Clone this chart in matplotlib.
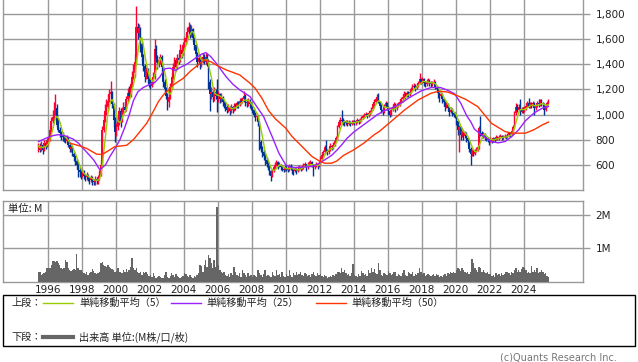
import numpy as np
import pandas as pd
import matplotlib
matplotlib.use("Agg")
import matplotlib.pyplot as plt
from matplotlib.patches import Rectangle
from matplotlib.lines import Line2D

# ---------------- data (monthly, Jun 1995 .. Jun 2025) ----------------
start_year, start_month = 1995, 6

opens = [
 720,750,720,760,720,770,750,
 790,800,880,950,980,1020,1050,920,880,850,830,820,
 800,790,810,760,730,740,690,660,630,600,560,540,
 520,540,510,500,520,490,480,500,470,460,490,470,
 500,520,600,880,960,1030,1060,1110,1160,1180,1080,960,
 860,900,950,1030,950,1020,1060,1040,1120,1170,1150,1240,
 1300,1330,1420,1700,1650,1690,1560,1460,1390,1300,1360,1280,
 1240,1230,1260,1300,1520,1450,1400,1430,1460,1380,1260,1200,
 1150,1100,1140,1220,1300,1380,1430,1380,1450,1430,1510,1480,
 1550,1580,1610,1660,1700,1640,1680,1610,1550,1480,1420,1450,
 1400,1430,1460,1420,1460,1430,1260,1160,1180,1140,1180,1150,
 1130,1160,1120,1140,1100,1080,1060,1040,1060,1030,1060,1040,
 1070,1060,1090,1080,1110,1100,1120,1150,1100,1090,1110,1080,
 1060,1040,1000,980,990,940,780,730,700,670,640,610,
 590,550,510,550,580,600,620,590,600,580,570,560,
 580,570,560,590,580,560,550,565,550,570,580,570,
 585,595,605,580,600,610,620,600,580,595,605,590,
 615,650,680,700,740,720,700,720,750,740,760,790,
 810,900,940,960,950,940,935,945,925,940,925,940,
 945,930,945,955,940,960,975,985,995,1005,990,1010,
 1025,1045,1080,1100,1120,1140,1100,1070,1040,1020,1070,1090,
 1060,1030,1000,1040,1060,1080,1050,1070,1080,1100,1120,1140,
 1160,1150,1170,1160,1180,1200,1220,1230,1210,1230,1250,1280,
 1260,1280,1250,1240,1260,1270,1250,1240,1250,1260,1220,1200,
 1170,1150,1160,1120,1100,1060,1080,1050,1020,1040,1010,1000,
 990,950,880,900,840,870,830,850,810,790,730,690,
 710,690,710,720,740,890,850,830,845,820,810,800,
 790,805,790,810,800,820,810,820,830,810,820,830,
 820,835,850,840,870,900,1010,1060,1040,1060,1020,1040,
 1030,1050,1070,1090,1060,1080,1070,1090,1050,1070,1090,1080,
 1100,1090,1080,1040,1070,1090,
]

closes = [
 750,720,760,720,770,750,790,
 800,880,950,980,1020,1050,920,880,850,830,820,800,
 790,810,760,730,740,690,660,630,600,560,540,520,
 540,510,500,520,490,480,500,470,460,490,470,500,
 520,600,880,960,1030,1060,1110,1160,1180,1080,960,860,
 900,950,1030,950,1020,1060,1040,1120,1170,1150,1240,1300,
 1330,1420,1700,1650,1690,1560,1460,1390,1300,1360,1280,1240,
 1230,1260,1300,1520,1450,1400,1430,1460,1380,1260,1200,1150,
 1100,1140,1220,1300,1380,1430,1380,1450,1430,1510,1480,1550,
 1580,1610,1660,1700,1640,1680,1610,1550,1480,1420,1450,1400,
 1430,1460,1420,1460,1430,1260,1160,1180,1140,1180,1150,1130,
 1160,1120,1140,1100,1080,1060,1040,1060,1030,1060,1040,1070,
 1060,1090,1080,1110,1100,1120,1150,1100,1090,1110,1080,1060,
 1040,1000,980,990,940,780,730,700,670,640,610,590,
 550,510,550,580,600,620,590,600,580,570,560,580,
 570,560,590,580,560,550,565,550,570,580,570,585,
 595,605,580,600,610,620,600,580,595,605,590,615,
 650,680,700,740,720,700,720,750,740,760,790,810,
 900,940,960,950,940,935,945,925,940,925,940,945,
 930,945,955,940,960,975,985,995,1005,990,1010,1025,
 1045,1080,1100,1120,1140,1100,1070,1040,1020,1070,1090,1060,
 1030,1000,1040,1060,1080,1050,1070,1080,1100,1120,1140,1160,
 1150,1170,1160,1180,1200,1220,1230,1210,1230,1250,1280,1260,
 1280,1250,1240,1260,1270,1250,1240,1250,1260,1220,1200,1170,
 1150,1160,1120,1100,1060,1080,1050,1020,1040,1010,1000,990,
 950,880,900,840,870,830,850,810,790,730,690,710,
 690,710,720,740,890,850,830,845,820,810,800,790,
 805,790,810,800,820,810,820,830,810,820,830,820,
 835,850,840,870,900,1010,1060,1040,1060,1020,1040,1030,
 1050,1070,1090,1060,1080,1070,1090,1050,1070,1090,1080,1100,
 1090,1080,1040,1070,1090,1110,
]

highs = [
 770,770,790,770,800,800,810,
 830,910,980,1040,1100,1160,1080,970,900,870,860,840,
 830,840,820,780,770,750,700,680,650,620,580,560,
 570,560,530,540,530,500,520,510,490,510,500,520,
 560,640,910,1000,1080,1120,1160,1200,1270,1190,1090,980,
 930,990,1060,1050,1060,1100,1110,1150,1210,1230,1270,1350,
 1400,1480,1860,1730,1720,1700,1580,1480,1400,1380,1370,1300,
 1280,1290,1340,1600,1550,1470,1460,1480,1470,1390,1280,1220,
 1170,1170,1250,1330,1410,1460,1450,1480,1490,1560,1540,1580,
 1620,1650,1700,1740,1720,1710,1690,1620,1560,1500,1480,1470,
 1460,1490,1480,1490,1480,1440,1280,1220,1200,1220,1200,1280,
 1190,1170,1170,1150,1110,1100,1080,1080,1070,1080,1070,1090,
 1090,1110,1110,1130,1130,1140,1190,1160,1120,1130,1120,1100,
 1070,1050,1020,1010,1000,950,800,750,720,690,660,630,
 600,560,570,600,620,640,630,620,610,600,580,600,
 600,580,610,610,590,570,580,575,590,600,590,600,
 615,625,610,620,630,640,630,610,610,625,615,630,
 670,700,720,760,800,730,740,770,760,780,800,830,
 920,960,980,1040,970,960,960,955,955,950,955,960,
 955,960,970,965,975,990,1000,1010,1020,1015,1025,1040,
 1060,1100,1120,1140,1160,1170,1110,1080,1050,1080,1110,1100,
 1070,1040,1060,1080,1100,1090,1090,1100,1120,1140,1160,1190,
 1180,1190,1190,1200,1220,1240,1250,1240,1250,1270,1330,1290,
 1300,1290,1270,1280,1290,1280,1270,1270,1280,1270,1230,1210,
 1180,1180,1170,1130,1110,1100,1090,1060,1060,1050,1020,1020,
 1000,960,920,910,890,880,870,860,820,800,740,730,
 720,730,740,760,910,990,870,860,855,830,820,810,
 820,815,825,820,835,830,835,845,840,835,845,840,
 850,865,860,885,920,1030,1090,1080,1080,1120,1060,1060,
 1070,1090,1110,1130,1100,1100,1110,1100,1090,1110,1120,1120,
 1120,1100,1090,1090,1110,1125,
]

lows = [
 700,700,710,690,710,730,740,
 760,790,860,930,960,1000,900,860,820,800,790,780,
 770,770,740,700,700,670,630,600,570,500,500,490,
 500,490,470,480,470,450,460,440,440,440,450,450,
 480,510,590,860,940,1000,1040,1100,1140,1050,900,780,
 830,880,920,900,940,1000,1020,1030,1100,1120,1140,1220,
 1280,1300,1400,1600,1620,1500,1420,1350,1260,1280,1250,1220,
 1200,1220,1240,1280,1420,1360,1380,1400,1340,1220,1160,1120,
 1040,1060,1120,1200,1280,1360,1350,1370,1400,1420,1450,1470,
 1530,1560,1590,1640,1610,1620,1580,1510,1440,1380,1400,1360,
 1380,1410,1400,1400,1390,1200,1030,1120,1100,1110,1120,1020,
 1100,1090,1100,1070,1050,1030,1010,1020,1000,1010,1010,1030,
 1040,1050,1050,1070,1080,1090,1100,1070,1060,1070,1050,1040,
 1010,980,950,960,910,720,700,660,640,600,580,560,
 520,470,500,540,570,590,570,580,560,550,540,550,
 550,540,550,560,530,520,540,530,540,560,550,560,
 570,580,550,570,590,600,580,510,570,585,570,580,
 605,640,670,690,700,680,690,710,720,730,750,780,
 800,890,920,930,920,910,920,910,915,910,915,925,
 915,920,935,925,935,950,965,975,985,970,980,1000,
 1015,1035,1070,1090,1110,1090,1050,1010,1000,1010,1060,1040,
 1000,980,990,1030,1050,1020,1040,1060,1070,1090,1100,1130,
 1120,1140,1140,1150,1170,1190,1210,1190,1200,1220,1240,1240,
 1250,1230,1220,1230,1250,1230,1220,1230,1240,1200,1180,1130,
 1100,1130,1090,1070,1030,1050,1030,990,1010,990,980,970,
 920,840,700,800,820,800,810,780,760,700,600,670,
 670,680,700,710,730,830,810,815,800,790,780,760,
 780,770,780,785,795,795,800,815,795,800,815,805,
 815,830,825,835,860,895,1000,1020,1030,1000,1010,1010,
 1020,1040,1060,1050,1050,1050,1060,1000,1040,1060,1060,1070,
 1070,1060,1000,1030,1060,1080,
]

volumes = [  # millions
 0.30,0.28,0.20,0.22,0.25,0.30,0.40,
 0.40,0.42,0.50,0.62,0.62,0.60,0.62,0.55,0.50,0.40,0.38,0.42,
 0.65,0.60,0.40,0.35,0.32,0.35,0.38,0.35,0.82,0.40,0.35,0.35,
 0.30,0.25,0.22,0.28,0.20,0.25,0.30,0.37,0.33,0.25,0.22,0.25,
 0.30,0.55,0.60,0.50,0.48,0.45,0.50,0.45,0.40,0.38,0.35,0.30,
 0.32,0.40,0.30,0.28,0.25,0.35,0.30,0.38,0.30,0.35,0.45,0.70,
 0.40,0.35,0.40,0.30,0.25,0.30,0.20,0.28,0.25,0.30,0.22,0.18,
 0.20,0.15,0.25,0.18,0.12,0.15,0.18,0.15,0.10,0.12,0.20,0.28,
 0.15,0.12,0.18,0.27,0.20,0.15,0.22,0.18,0.15,0.12,0.15,0.18,
 0.25,0.22,0.18,0.15,0.20,0.15,0.12,0.18,0.15,0.20,0.25,0.50,
 0.48,0.30,0.50,0.65,0.45,0.80,0.70,0.55,0.40,0.65,0.45,2.25,
 0.50,0.35,0.30,0.25,0.30,0.20,0.18,0.22,0.15,0.25,0.20,0.45,
 0.30,0.20,0.18,0.25,0.15,0.35,0.25,0.20,0.15,0.25,0.18,0.20,
 0.15,0.20,0.18,0.15,0.35,0.25,0.20,0.15,0.22,0.35,0.18,0.20,
 0.18,0.15,0.30,0.20,0.18,0.35,0.20,0.22,0.15,0.30,0.18,0.15,
 0.22,0.18,0.35,0.20,0.15,0.25,0.20,0.30,0.20,0.22,0.28,0.20,
 0.18,0.25,0.22,0.18,0.20,0.15,0.22,0.28,0.20,0.18,0.25,0.20,
 0.22,0.18,0.15,0.20,0.18,0.12,0.15,0.18,0.15,0.20,0.18,0.22,
 0.30,0.28,0.25,0.40,0.30,0.35,0.25,0.20,0.22,0.18,0.25,0.53,
 0.20,0.18,0.15,0.22,0.18,0.32,0.25,0.20,0.22,0.18,0.36,0.25,
 0.40,0.30,0.38,0.25,0.22,0.57,0.35,0.20,0.18,0.25,0.22,0.20,
 0.32,0.25,0.20,0.22,0.30,0.28,0.18,0.22,0.20,0.18,0.25,0.35,
 0.20,0.18,0.30,0.25,0.22,0.28,0.18,0.22,0.20,0.25,0.40,0.30,
 0.22,0.25,0.18,0.20,0.22,0.20,0.18,0.20,0.22,0.18,0.22,0.20,
 0.15,0.18,0.15,0.20,0.22,0.18,0.25,0.22,0.28,0.25,0.30,0.25,
 0.35,0.40,0.38,0.32,0.40,0.35,0.30,0.25,0.28,0.22,0.30,0.67,
 0.55,0.40,0.35,0.30,0.45,0.40,0.30,0.35,0.28,0.25,0.30,0.22,
 0.22,0.18,0.20,0.15,0.25,0.20,0.22,0.18,0.25,0.20,0.22,0.28,
 0.30,0.25,0.20,0.30,0.25,0.35,0.40,0.28,0.35,0.30,0.38,0.45,
 0.40,0.35,0.25,0.30,0.25,0.47,0.30,0.35,0.28,0.42,0.25,0.30,
 0.35,0.30,0.22,0.25,0.18,0.15,
]

# moving averages (25 / 50): (decimal year, value)
ma25_t = [1995.46,1995.9,1996.3,1996.6,1997.0,1997.5,1997.8,1998.2,1998.7,1999.07,
          1999.4,1999.66,2000.0,2000.25,2000.54,2000.8,2001.04,2001.3,2001.62,2002.0,
          2002.3,2002.6,2002.9,2003.19,2003.5,2003.8,2004.18,2004.5,2004.76,2005.05,
          2005.3,2005.6,2005.9,2006.2,2006.5,2006.9,2007.3,2007.9,2008.3,2008.7,
          2009.2,2009.6,2010.0,2010.35,2010.96,2011.55,2011.94,2012.3,2012.7,2013.0,
          2013.3,2013.6,2014.0,2014.5,2015.0,2015.4,2015.8,2016.2,2016.6,2017.0,
          2017.4,2017.8,2018.0,2018.56,2019.1,2019.5,2019.94,2020.3,2020.65,2020.9,
          2021.1,2021.5,2022.1,2022.5,2022.9,2023.3,2023.7,2024.1,2024.6,2025.1,2025.46]
ma25_v = [785,812,832,840,832,805,773,715,640,560,
          600,666,740,800,900,1000,1110,1180,1215,1240,
          1255,1300,1365,1369,1350,1375,1400,1430,1455,1480,
          1493,1460,1410,1355,1300,1240,1196,1143,1063,984,
          826,693,600,578,582,587,610,640,675,715,
          760,810,860,910,960,1000,1030,1050,1075,1110,
          1145,1175,1190,1215,1215,1195,1165,1090,990,940,
          885,840,785,775,785,825,878,950,1011,1051,1065]

ma50_t = [1997.3,1997.9,1998.3,1998.88,1999.2,1999.6,1999.96,2000.3,2000.65,2001.04,
          2001.4,2001.82,2002.21,2002.5,2002.8,2003.39,2003.98,2004.37,2004.96,2005.25,
          2005.6,2005.9,2006.5,2007.3,2007.9,2008.2,2008.6,2009.0,2009.4,2010.0,
          2010.37,2010.96,2011.55,2012.04,2012.3,2012.7,2013.0,2013.4,2014.0,2014.6,
          2015.2,2015.5,2016.2,2017.0,2017.8,2018.56,2019.0,2019.5,2020.1,2020.6,
          2021.3,2022.1,2022.9,2023.3,2024.1,2024.6,2025.1,2025.46]
ma50_v = [773,750,730,685,682,715,746,750,756,800,
          860,930,1024,1100,1156,1236,1289,1342,1408,1434,
          1420,1395,1355,1315,1249,1210,1130,1030,965,892,
          826,746,666,626,613,613,630,675,719,773,
          839,865,945,1037,1117,1170,1185,1180,1150,1120,
          1063,931,865,852,852,879,918,940]

price_ticks = [600, 800, 1000, 1200, 1400, 1600, 1800]
vol_ticks = [1, 2]
vol_tick_labels = ["1M", "2M"]
year_ticks = list(range(1996, 2025, 2))

legend_labels = ["単純移動平均（5）", "単純移動平均（25）", "単純移動平均（50）"]
volume_label = "出来高 単位:(M株/口/枚)"

# ---------------- styling ----------------
RED = "#ff0033"
BLUE = "#003399"
C5 = "#99cc00"
C25 = "#9922ff"
C50 = "#ff3300"
GRID = "#999999"
VOLC = "#666666"
TXT = "#222222"
JP = ["Noto Sans CJK JP", "DejaVu Sans"]

W, H = 638, 362
fig = plt.figure(figsize=(W / 100, H / 100), dpi=100)
fig.patch.set_facecolor("white")


def px_axes(x0, y0, x1, y1):
    return fig.add_axes([x0 / W, 1 - y1 / H, (x1 - x0) / W, (y1 - y0) / H])


def fx(x):
    return x / W


def fy(y):
    return 1 - y / H


n = len(closes)
t = np.array([start_year + (start_month - 1 + i + 0.5) / 12.0 for i in range(n)])
o = np.array(opens, float)
c = np.array(closes, float)
hi = np.array(highs, float)
lo = np.array(lows, float)
vol = np.array(volumes, float)
ma5 = pd.Series(c).rolling(5, min_periods=1).mean().values

XL = (1993.37, 2027.49)

# ---------------- price panel ----------------
ax = px_axes(3, 0, 583, 190)
ax.set_xlim(*XL)
ax.set_ylim(400, 1911)
ax.set_yticks(price_ticks)
ax.set_yticklabels([f"{v:,}" for v in price_ticks])
ax.set_xticks(year_ticks)
ax.tick_params(axis="x", length=0, labelbottom=False)
ax.yaxis.tick_right()
ax.tick_params(axis="y", length=5, width=1, color=GRID, labelsize=7.5,
               labelcolor=TXT, pad=4)
ax.grid(True, color=GRID, lw=1)
ax.set_axisbelow(True)
for s in ax.spines.values():
    s.set_color(GRID)
    s.set_linewidth(1)
ax.spines["top"].set_visible(False)

up = c >= o
cols = np.where(up, RED, BLUE)
ax.vlines(t, lo, hi, colors=cols, lw=1.0, zorder=3)
body_h = np.maximum(np.abs(c - o), 8)
ax.bar(t, body_h, bottom=np.minimum(o, c), width=0.1, color=cols, lw=0, zorder=3)

ax.plot(t, ma5, color=C5, lw=1.0, zorder=4)
ax.plot(ma25_t, ma25_v, color=C25, lw=1.0, zorder=4)
ax.plot(ma50_t, ma50_v, color=C50, lw=1.0, zorder=4)

# ---------------- volume panel ----------------
axv = px_axes(3, 201, 583, 281.6)
axv.set_xlim(*XL)
axv.set_ylim(0, 2.42)
axv.set_yticks(vol_ticks)
axv.set_yticklabels(vol_tick_labels)
axv.set_xticks(year_ticks)
axv.set_xticklabels([str(y) for y in year_ticks])
axv.yaxis.tick_right()
axv.tick_params(axis="y", length=5, width=1, color=GRID, labelsize=7.5,
                labelcolor=TXT, pad=4)
axv.tick_params(axis="x", length=0, labelsize=7.5, labelcolor=TXT, pad=2.5)
axv.grid(True, color=GRID, lw=1)
axv.set_axisbelow(True)
for s in axv.spines.values():
    s.set_color(GRID)
    s.set_linewidth(1)
axv.bar(t, vol, width=1 / 12.0, color=VOLC, lw=0, zorder=3)
axv.text(0.008, 0.905, "単位: M", transform=axv.transAxes, fontsize=7.5,
         family=JP, color=TXT, ha="left", va="center", zorder=5,
         bbox=dict(facecolor="white", edgecolor="none", pad=0.3))

# ---------------- legend box ----------------
fig.add_artist(Rectangle((fx(3), fy(346)), (635 - 3) / W, (346 - 295) / H,
                         transform=fig.transFigure, fill=False, ec="black", lw=1))
ly1, ly2 = 303, 337
fig.text(fx(11), fy(ly1), "上段：", family=JP, fontsize=7.3, color=TXT, va="center")
fig.text(fx(11), fy(ly2), "下段：", family=JP, fontsize=7.3, color=TXT, va="center")
for (x0, x1, tx), colr, lab in zip([(43, 73, 79), (171, 201, 206), (316, 346, 351)],
                                   [C5, C25, C50], legend_labels):
    fig.add_artist(Line2D([fx(x0), fx(x1)], [fy(ly1), fy(ly1)], color=colr, lw=1.0,
                          transform=fig.transFigure))
    fig.text(fx(tx), fy(ly1), lab, family=JP, fontsize=7.3, color=TXT, va="center")
fig.add_artist(Line2D([fx(43), fx(73)], [fy(ly2), fy(ly2)], color=VOLC, lw=3,
                      transform=fig.transFigure))
fig.text(fx(79), fy(ly2), volume_label, family=JP, fontsize=7.3, color=TXT, va="center")

fig.text(fx(617), fy(357), "(c)Quants Research Inc.", fontsize=7, color="#777777",
         ha="right", va="center")

fig.savefig("out.png", dpi=100)
